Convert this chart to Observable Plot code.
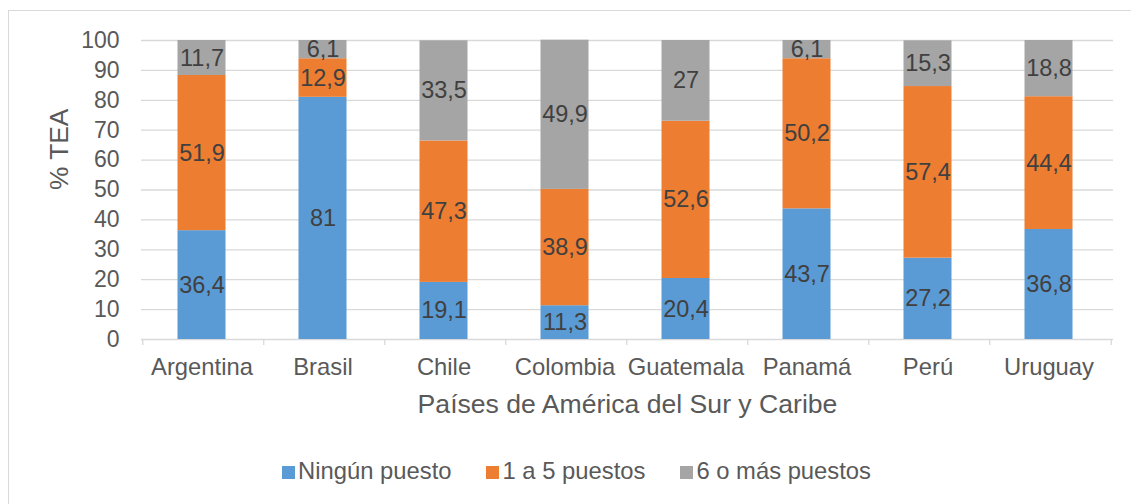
<!DOCTYPE html>
<html>
<head>
<meta charset="utf-8">
<script src="https://cdn.jsdelivr.net/npm/d3@7"></script>
<script src="https://cdn.jsdelivr.net/npm/@observablehq/plot@0.6"></script>
<style>
  body { margin: 0; background: #fff; font-family: "Liberation Sans", Arial, sans-serif; }
  #wrap { position: relative; width: 1131px; height: 504px; overflow: hidden; background: #fff; }
  #frame { position: absolute; left: 8px; top: 10px; width: 1150px; height: 530px; border: 1.5px solid #D9D9D9; box-sizing: border-box; }
  #chart { position: absolute; left: 0; top: 0; }
  #legend { position: absolute; left: 282px; top: 459px; display: flex; align-items: center; font-size: 23.8px; line-height: 24px; color: #595959; white-space: nowrap; }
  .item { display: flex; align-items: center; margin-right: 35px; }
  .sw { width: 13px; height: 13px; margin-right: 3px; margin-top: 3px; }
</style>
</head>
<body>
<div id="wrap">
  <div id="frame"></div>
  <div id="chart"></div>
  <div id="legend"></div>
</div>
<script>
const paises = ["Argentina", "Brasil", "Chile", "Colombia", "Guatemala", "Panamá", "Perú", "Uruguay"];
const ningunPuesto = [36.4, 81, 19.1, 11.3, 20.4, 43.7, 27.2, 36.8];
const unoACinco = [51.9, 12.9, 47.3, 38.9, 52.6, 50.2, 57.4, 44.4];
const seisOMas = [11.7, 6.1, 33.5, 49.9, 27, 6.1, 15.3, 18.8];
const series = ["Ningún puesto", "1 a 5 puestos", "6 o más puestos"];
const colores = ["#5B9BD5", "#ED7D31", "#A5A5A5"];
const yTicks = [0, 10, 20, 30, 40, 50, 60, 70, 80, 90, 100];
const tituloX = "Países de América del Sur y Caribe";
const tituloY = "% TEA";

const valores = [ningunPuesto, unoACinco, seisOMas];
const data = [];
paises.forEach((p, i) => {
  series.forEach((s, j) => data.push({pais: p, serie: s, valor: valores[j][i]}));
});
const fmt = v => String(v).replace(".", ",");

const step = (1113 - 141) / paises.length;

const chart = Plot.plot({
  width: 1131,
  height: 440,
  marginLeft: 141,
  marginRight: 18,
  marginTop: 40,
  marginBottom: 101,
  style: {fontFamily: "'Liberation Sans', Arial, sans-serif", color: "#595959", background: "transparent", overflow: "visible"},
  x: {domain: paises, paddingInner: 0.6, paddingOuter: 0.3, label: null},
  y: {domain: [0, 100], label: null},
  color: {domain: series, range: colores},
  marks: [
    Plot.gridY(yTicks, {stroke: "#D9D9D9", strokeOpacity: 1, strokeWidth: 1.3}),
    Plot.ruleX(paises, {x: d => d, dx: -step / 2, y1: 0, y2: -2, stroke: "#D9D9D9", strokeWidth: 1.3}),
    Plot.ruleX(paises.slice(-1), {x: d => d, dx: step / 2, y1: 0, y2: -2, stroke: "#D9D9D9", strokeWidth: 1.3}),
    Plot.barY(data, {x: "pais", y: "valor", fill: "serie", z: "serie", dx: -1.5}),
    Plot.text(data, Plot.stackY({x: "pais", y: "valor", z: "serie", text: d => fmt(d.valor), fill: "#404040", fontSize: 23.5, dx: -1.5})),
    Plot.axisY({ticks: yTicks, tickSize: 0, tickPadding: 22, fontSize: 23, label: null}),
    Plot.axisX({tickSize: 0, tickPadding: 19, fontSize: 23.8, label: null, dx: -1.5}),
    Plot.text([tituloX], {frameAnchor: "bottom", dy: 73, lineAnchor: "bottom", fontSize: 26.6, fill: "#595959"}),
    Plot.text([tituloY], {frameAnchor: "left", rotate: -90, dx: -74, lineAnchor: "bottom", fontSize: 26.3, fill: "#595959"})
  ]
});
document.getElementById("chart").appendChild(chart);

const legend = document.getElementById("legend");
series.forEach((s, i) => {
  const item = document.createElement("div");
  item.className = "item";
  const sw = document.createElement("div");
  sw.className = "sw";
  sw.style.background = colores[i];
  const t = document.createElement("span");
  t.textContent = s;
  item.appendChild(sw);
  item.appendChild(t);
  legend.appendChild(item);
});
</script>
</body>
</html>
